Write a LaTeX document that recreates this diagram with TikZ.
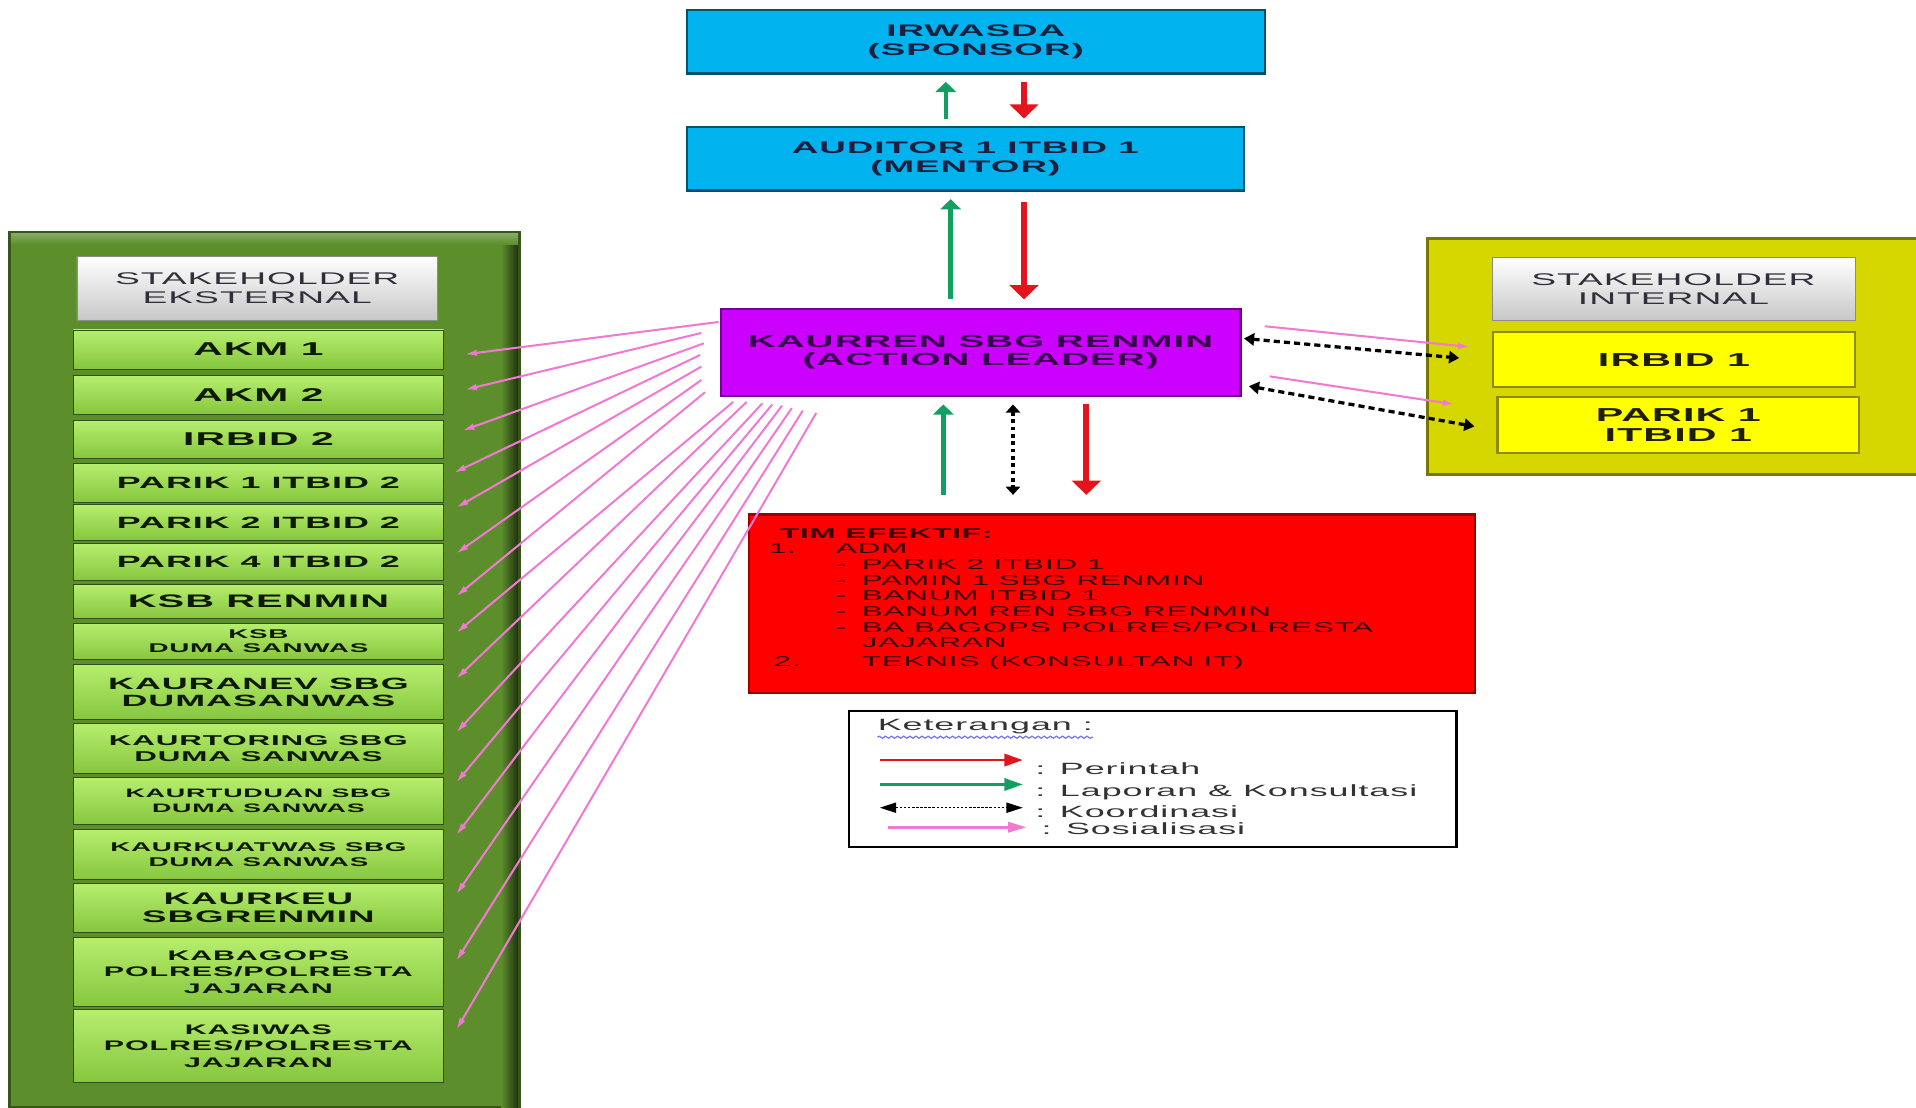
\documentclass[tikz,border=0pt]{standalone}
\usepackage{fontspec}
\setmainfont{Liberation Sans}
\newfontfamily\widefont[FakeStretch=2.2,LetterSpace=6]{Liberation Sans}
\usetikzlibrary{positioning, arrows.meta, calc, decorations.pathmorphing}
\definecolor{orgsky}{HTML}{00B2EE}
\definecolor{orgviolet}{HTML}{CC00FF}
\definecolor{orgred}{HTML}{FF0000}
\definecolor{orgolive}{HTML}{5C8E2C}
\definecolor{orgleaftop}{HTML}{B6EE6E}
\definecolor{orgleafbot}{HTML}{86C63E}
\definecolor{orglemon}{HTML}{FFFF00}
\definecolor{orgmustard}{HTML}{D6D600}
\definecolor{orgcmd}{HTML}{E4141C}
\definecolor{orgrpt}{HTML}{12A062}
\definecolor{orgpink}{HTML}{F07AD2}
\colorlet{roleSponsor}{orgsky}
\colorlet{roleLeader}{orgviolet}
\colorlet{roleTeam}{orgred}
\colorlet{roleExtPanel}{orgolive}
\colorlet{roleIntPanel}{orgmustard}
\colorlet{roleInt}{orglemon}
\colorlet{roleOrder}{orgcmd}
\colorlet{roleReport}{orgrpt}
\colorlet{roleSocial}{orgpink}
\definecolor{inkNavy}{HTML}{1C2040}
\definecolor{inkPurple}{HTML}{3A0050}
\definecolor{inkGreen}{HTML}{0E1A00}
\definecolor{inkOlive}{HTML}{1E1E00}
\definecolor{inkGrey}{HTML}{30303C}
\definecolor{inkRed}{HTML}{3A0000}

\begin{document}
\begin{tikzpicture}[x=0.6pt, y=-0.6pt,
        box/.style={rectangle, draw, align=center, inner sep=1pt,
            font=\widefont\bfseries\fontsize{8.2}{9.4}\selectfont},
        sponsor/.style={box, fill=roleSponsor, draw=roleSponsor!45!black,
            line width=1.2pt, text=inkNavy},
        leader/.style={box, fill=roleLeader, draw=roleLeader!55!black,
            line width=1.2pt, text=inkPurple,
            font=\widefont\bfseries\fontsize{8.6}{9}\selectfont},
        team/.style={rectangle, fill=roleTeam, draw=roleTeam!60!black, line width=1.2pt},
        teamtext/.style={inner sep=0pt, align=left, text=inkRed,
            font=\widefont\fontsize{7}{7.7}\selectfont},
        tag/.style={box, top color=white, bottom color=black!22, draw=black!45,
            text=inkGrey, font=\widefont\fontsize{8.3}{9.6}\selectfont},
        extern/.style={box, top color=orgleaftop, bottom color=orgleafbot,
            draw=roleExtPanel!55!black, minimum width=181.8pt, text=inkGreen},
        intern/.style={box, fill=roleInt, draw=roleInt!55!black, line width=1pt,
            minimum width=177.6pt, text=inkOlive,
            font=\widefont\bfseries\fontsize{9.2}{9.6}\selectfont},
        keytext/.style={inner sep=0pt, text=black!80,
            font=\widefont\fontsize{8}{9}\selectfont},
        orderline/.style={-{Triangle[length=7pt, width=14pt]}, line width=3pt, roleOrder},
        reportline/.style={-{Triangle[length=5pt, width=10pt]}, line width=2.2pt, roleReport},
        liaiseline/.style={{Triangle[length=5pt, width=6pt]}-{Triangle[length=5pt, width=6pt]},
            line width=1.6pt, dash pattern=on 3pt off 2pt},
        socialline/.style={-{Latex[length=6pt, width=3.2pt]}, line width=1pt, roleSocial},
    ]
    \useasboundingbox (0,0) rectangle (1568,906);

    % Stakeholder panels
    \draw[fill=roleExtPanel, draw=roleExtPanel!60!black, line width=1.5pt] (8,190) rectangle (425,906);
    \shade[left color=roleExtPanel, right color=roleExtPanel!35!black] (410,192) rectangle (424,906);
    \shade[top color=roleExtPanel!75!white, bottom color=roleExtPanel] (9,191) rectangle (424,200);
    \draw[fill=roleIntPanel, draw=roleIntPanel!55!black, line width=1.5pt] (1168,195) rectangle (1572,388);

    % Sponsor and mentor
    \node[sponsor, minimum width=283.8pt, minimum height=31.2pt] (irw) at (798.5,34)
    {IRWASDA\\(SPONSOR)};
    \node[sponsor, minimum width=273.6pt, minimum height=31.2pt] (aud) at (790,130)
    {AUDITOR 1 ITBID 1\\(MENTOR)};

    % Action leader
    \node[leader, minimum width=255pt, minimum height=42.6pt] (lead) at (802.5,288.5)
    {KAURREN SBG RENMIN\\(ACTION LEADER)};

    % Effective team
    \node[team, minimum width=356.4pt, minimum height=87.6pt] (team) at (910,494) {};
    \node[teamtext, anchor=north west] (teamlist) at (629,432)
    {\makebox[5.4pt]{}\textbf{TIM EFEKTIF:}\\
        \makebox[33pt][l]{1.}ADM\\
        \makebox[33pt]{}\makebox[12.6pt][l]{-}PARIK 2 ITBID 1\\
        \makebox[33pt]{}\makebox[12.6pt][l]{-}PAMIN 1 SBG RENMIN\\
        \makebox[33pt]{}\makebox[12.6pt][l]{-}BANUM ITBID 1\\
        \makebox[33pt]{}\makebox[12.6pt][l]{-}BANUM REN SBG RENMIN\\
        \makebox[33pt]{}\makebox[12.6pt][l]{-}BA BAGOPS POLRES/POLRESTA\\
        \makebox[33pt]{}\makebox[12.6pt]{}JAJARAN\\[1.6pt]
        \makebox[2.4pt]{}\makebox[43.2pt][l]{2.}TEKNIS (KONSULTAN IT)};

    % External stakeholders
    \node[tag, minimum width=177pt, minimum height=31.2pt] (exttag) at (210.5,236)
    {STAKEHOLDER\\EKSTERNAL};
    \node[extern, minimum height=19.2pt, font=\widefont\bfseries\fontsize{9.1}{9.4}\selectfont] (akm1) at (211.5,286) {AKM 1};
    \node[extern, minimum height=19.2pt, font=\widefont\bfseries\fontsize{9.1}{9.4}\selectfont] (akm2) at (211.5,323) {AKM 2};
    \node[extern, minimum height=18.6pt, font=\widefont\bfseries\fontsize{9.1}{9.4}\selectfont] (irb2) at (211.5,359.5) {IRBID 2};
    \node[extern, minimum height=19.2pt, font=\widefont\bfseries\fontsize{8}{9}\selectfont] (prk12) at (211.5,395) {PARIK 1 ITBID 2};
    \node[extern, minimum height=17.4pt, font=\widefont\bfseries\fontsize{8}{9}\selectfont] (prk22) at (211.5,427.5) {PARIK 2 ITBID 2};
    \node[extern, minimum height=18pt, font=\widefont\bfseries\fontsize{8}{9}\selectfont] (prk42) at (211.5,460) {PARIK 4 ITBID 2};
    \node[extern, minimum height=16.8pt, font=\widefont\bfseries\fontsize{8.9}{9}\selectfont] (ksbr) at (211.5,492) {KSB RENMIN};
    \node[extern, minimum height=18pt, font=\widefont\bfseries\fontsize{6.2}{7}\selectfont] (ksbd) at (211.5,525) {KSB\\DUMA SANWAS};
    \node[extern, minimum height=27pt, font=\widefont\bfseries\fontsize{8}{8.4}\selectfont] (kanev) at (211.5,566.5) {KAURANEV SBG\\DUMASANWAS};
    \node[extern, minimum height=24.6pt, font=\widefont\bfseries\fontsize{7}{7.8}\selectfont] (kator) at (211.5,612.5) {KAURTORING SBG\\DUMA SANWAS};
    \node[extern, minimum height=23.4pt, font=\widefont\bfseries\fontsize{6}{7.2}\selectfont] (katud) at (211.5,655.5) {KAURTUDUAN SBG\\DUMA SANWAS};
    \node[extern, minimum height=24.6pt, font=\widefont\bfseries\fontsize{6.2}{7.2}\selectfont] (kakua) at (211.5,699.5) {KAURKUATWAS SBG\\DUMA SANWAS};
    \node[extern, minimum height=24pt, font=\widefont\bfseries\fontsize{8.2}{9}\selectfont] (kakeu) at (211.5,743) {KAURKEU\\SBGRENMIN};
    \node[extern, minimum height=34.2pt, font=\widefont\bfseries\fontsize{6.8}{8.1}\selectfont] (kabag) at (211.5,795.5) {KABAGOPS\\POLRES/POLRESTA\\JAJARAN};
    \node[extern, minimum height=36pt, font=\widefont\bfseries\fontsize{6.8}{8.1}\selectfont] (kasiw) at (211.5,856) {KASIWAS\\POLRES/POLRESTA\\JAJARAN};

    % Internal stakeholders
    \node[tag, minimum width=178.2pt, minimum height=30.6pt] (inttag) at (1369.5,236.5)
    {STAKEHOLDER\\INTERNAL};
    \node[intern, minimum height=27pt] (irb1) at (1370,294.5) {IRBID 1};
    \node[intern, minimum height=27.6pt] (prk11) at (1373.5,348) {PARIK 1\\ITBID 1};

    % Chain of command
    \draw[reportline] ($(aud.north)+(-16,-6)$) -- ($(irw.south)+(-24.5,6)$);
    \draw[orderline] ($(irw.south)+(39.5,6)$) -- ($(aud.north)+(48,-6)$);
    \draw[reportline] ($(lead.north)+(-24.5,-7)$) -- ($(aud.south)+(-12,6)$);
    \draw[orderline] ($(aud.south)+(48,8)$) -- ($(lead.north)+(35.5,-7)$);
    \draw[reportline] ($(team.north)+(-138,-15)$) -- ($(lead.south)+(-30.5,6)$);
    \draw[liaiseline, line width=2pt, dash pattern=on 1.8pt off 1.8pt,
        {Triangle[length=4pt, width=7pt]}-{Triangle[length=4pt, width=7pt]}]
    ($(lead.south)+(26.5,6)$) -- ($(team.north)+(-81,-15)$);
    \draw[orderline] ($(lead.south)+(86.5,6)$) -- ($(team.north)+(-21,-15)$);

    % Coordination with internal stakeholders
    \draw[socialline] ($(lead.east)+(19,-21.5)$) -- ($(irb1.west)+(-18,-10.5)$);
    \draw[liaiseline] ($(lead.east)+(2,-11.5)$) -- ($(irb1.west)+(-27,-1.5)$);
    \draw[socialline] ($(lead.east)+(23,19.5)$) -- ($(prk11.west)+(-34,-17)$);
    \draw[liaiseline] ($(lead.east)+(6,27.5)$) -- ($(prk11.west)+(-18,1)$);

    % Socialisation to external stakeholders
    \draw[socialline] ($(lead.west)+(-1,-25)$) -- ($(akm1.east)+(17,4)$);
    \draw[socialline] ($(lead.west)+(-15,-16)$) -- ($(akm2.east)+(17,-4)$);
    \draw[socialline] ($(lead.west)+(-13,-7.5)$) -- ($(irb2.east)+(15,-7)$);
    \draw[socialline] ($(lead.west)+(-16,2)$) -- ($(prk12.east)+(8,-8)$);
    \draw[socialline] ($(lead.west)+(-15,11.5)$) -- ($(prk22.east)+(10,-12)$);
    \draw[socialline] ($(lead.west)+(-15,22.5)$) -- ($(prk42.east)+(10,-7)$);
    \draw[socialline] ($(lead.west)+(-12,32.5)$) -- ($(ksbr.east)+(10,-4)$);
    \draw[socialline] ($(lead.south west)+(11,4)$) -- ($(ksbd.east)+(10,-7)$);
    \draw[socialline] ($(lead.south west)+(22,4)$) -- ($(kanev.east)+(10,-11)$);
    \draw[socialline] ($(lead.south west)+(35,5)$) -- ($(kator.east)+(10,-13)$);
    \draw[socialline] ($(lead.south west)+(43,6)$) -- ($(katud.east)+(10,-15)$);
    \draw[socialline] ($(lead.south west)+(51,7)$) -- ($(kakua.east)+(10,-16)$);
    \draw[socialline] ($(lead.south west)+(59,9)$) -- ($(kakeu.east)+(10,-11)$);
    \draw[socialline] ($(lead.south west)+(68,11)$) -- ($(kabag.east)+(10,-9)$);
    \draw[socialline] ($(lead.south west)+(79,13)$) -- ($(kasiw.east)+(10,-13)$);

    % Legend
    \node[draw=black, line width=1.2pt, minimum width=298.2pt, minimum height=66.6pt] (key) at (943.5,637.5) {};
    \node[keytext, anchor=west] (keyttl) at (718,595) {Keterangan :};
    \draw[blue!55, line width=0.6pt, decorate,
        decoration={snake, amplitude=0.5pt, segment length=3pt}]
    ($(keyttl.south west)+(0,2)$) -- ($(keyttl.south east)+(0,2)$);
    \coordinate (k1a) at (720,622); \coordinate (k1b) at (837,622);
    \coordinate (k2a) at (720,642); \coordinate (k2b) at (837,642);
    \coordinate (k3a) at (720,661); \coordinate (k3b) at (837,661);
    \coordinate (k4a) at (727,677); \coordinate (k4b) at (840,677);
    \draw[-{Triangle[length=9pt, width=6pt]}, line width=1.3pt, roleOrder] (k1a) -- (k1b);
    \draw[-{Triangle[length=9pt, width=6pt]}, line width=1.3pt, roleReport] (k2a) -- (k2b);
    \draw[{Triangle[length=8pt, width=5pt]}-{Triangle[length=8pt, width=5pt]},
        line width=0.6pt, dash pattern=on 1.2pt off 0.8pt] (k3a) -- (k3b);
    \draw[-{Triangle[length=9pt, width=5pt]}, line width=1.3pt, roleSocial] (k4a) -- (k4b);
    \node[keytext, anchor=west] (k1t) at (847,629) {: Perintah};
    \node[keytext, anchor=west] (k2t) at (847,648) {: Laporan \& Konsultasi};
    \node[keytext, anchor=west] (k3t) at (847,664) {: Koordinasi};
    \node[keytext, anchor=west] (k4t) at (852,678) {: Sosialisasi};
\end{tikzpicture}
\end{document}
